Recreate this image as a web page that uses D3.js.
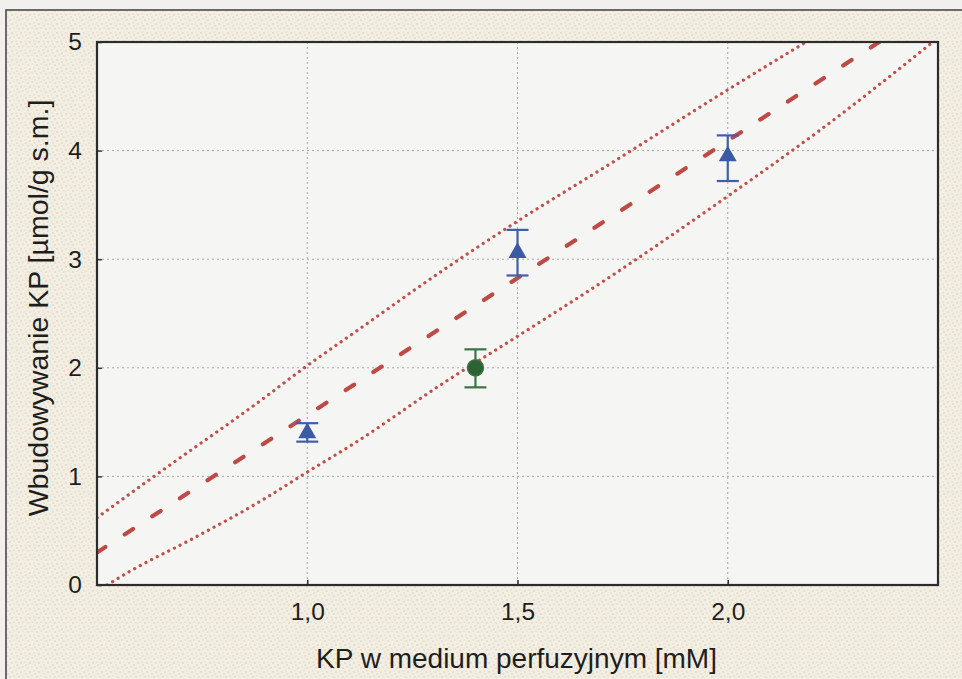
<!DOCTYPE html>
<meta charset="utf-8">
<title>Wbudowywanie KP</title>
<style>
    body { margin: 0; background: #f1f0ec; }
    svg { display: block; }
    text { font-family: "Liberation Sans", Arial, sans-serif; fill: #1e1e1e; }
</style>
<script src="https://d3js.org/d3.v7.js"></script>
<body>
<script>
    // values
    const xTicks = [1.0, 1.5, 2.0];
    const yTicks = [0, 1, 2, 3, 4, 5];

    // triangles: mean with lower / upper error
    const triX = [1.0, 1.5, 2.0];
    const triY = [1.40, 3.06, 3.95];
    const triLo = [1.32, 2.85, 3.72];
    const triHi = [1.49, 3.27, 4.14];

    // green circle
    const dotX = [1.4];
    const dotY = [2.0];
    const dotLo = [1.82];
    const dotHi = [2.17];

    // regression line and confidence band
    const fitLine = [[0.5, 0.30], [2.36, 5.0]];
    const upperBand = [[0.5, 0.62], [0.65, 1.04], [0.886, 1.69], [1.0, 2.02], [1.114, 2.33],
        [1.316, 2.88], [1.5, 3.35], [1.721, 3.88], [2.0, 4.56], [2.186, 5.0]];
    const lowerBand = [[0.524, 0.0], [0.571, 0.11], [0.729, 0.43], [0.888, 0.77], [1.0, 1.04],
        [1.114, 1.31], [1.324, 1.86], [1.5, 2.29], [1.721, 2.84], [2.0, 3.58], [2.22, 4.19], [2.488, 5.0]];

    const W = 962, H = 679;
    const margin = { top: 42, right: 24, bottom: 94, left: 97 };
    const width = W - margin.left - margin.right,
        height = H - margin.top - margin.bottom;

    const svg = d3.select("body").append("svg")
        .attr("width", W)
        .attr("height", H);

    // stippled paper texture
    const defs = svg.append("defs");
    const pat = defs.append("pattern")
        .attr("id", "paper")
        .attr("width", 9).attr("height", 9)
        .attr("patternUnits", "userSpaceOnUse");
    pat.append("rect").attr("width", 9).attr("height", 9).attr("fill", "#f3eee2");
    [[1, 2, "#d9c3b6"], [5, 1, "#dcd2c4"], [3, 6, "#d6c0b4"], [7, 5, "#e0d6c9"], [8, 8, "#d8cabd"]]
        .forEach(p => pat.append("circle").attr("cx", p[0]).attr("cy", p[1]).attr("r", 0.7).attr("fill", p[2]));

    svg.append("rect")
        .attr("x", 6).attr("y", 10)
        .attr("width", W).attr("height", H)
        .attr("fill", "url(#paper)")
        .attr("stroke", "#4a4a4a")
        .attr("stroke-width", 1.6);

    const g = svg.append("g")
        .attr("transform", `translate(${margin.left},${margin.top})`);

    g.append("rect")
        .attr("width", width).attr("height", height)
        .attr("fill", "#f5f5f3");

    defs.append("clipPath").attr("id", "plotclip")
        .append("rect").attr("width", width).attr("height", height);

    const x = d3.scaleLinear().domain([0.5, 2.5]).range([0, width]);
    const y = d3.scaleLinear().domain([0, 5]).range([height, 0]);

    // grid
    g.append("g").selectAll("line").data(xTicks).join("line")
        .attr("x1", d => x(d)).attr("x2", d => x(d))
        .attr("y1", 0).attr("y2", height)
        .attr("stroke", "#a8a8a8").attr("stroke-width", 1)
        .attr("stroke-dasharray", "2,3");
    g.append("g").selectAll("line").data(yTicks.slice(1, -1)).join("line")
        .attr("x1", 0).attr("x2", width)
        .attr("y1", d => y(d)).attr("y2", d => y(d))
        .attr("stroke", "#a8a8a8").attr("stroke-width", 1)
        .attr("stroke-dasharray", "2,3");

    // axes
    const xAxis = g.append("g")
        .attr("transform", `translate(0,${height})`)
        .call(d3.axisBottom(x).tickValues(xTicks).tickSizeInner(-5).tickSizeOuter(0)
            .tickPadding(18).tickFormat(d => d3.format(".1f")(d).replace(".", ",")));
    const yAxis = g.append("g")
        .call(d3.axisLeft(y).tickValues(yTicks).tickSizeInner(-5).tickSizeOuter(0)
            .tickPadding(15).tickFormat(d3.format("d")));
    [xAxis, yAxis].forEach(a => {
        a.select(".domain").remove();
        a.selectAll(".tick line").attr("stroke", "#333").attr("stroke-width", 1.5);
        a.selectAll(".tick text").style("font-size", "24.5px").attr("fill", "#1e1e1e");
    });

    // lines
    const line = d3.line().x(d => x(d[0])).y(d => y(d[1])).curve(d3.curveMonotoneX);
    const lines = g.append("g").attr("clip-path", "url(#plotclip)");
    lines.append("path").datum(upperBand).attr("d", line)
        .attr("fill", "none").attr("stroke", "#c1504b").attr("stroke-width", 3.2)
        .attr("stroke-linecap", "round").attr("stroke-dasharray", "0.1,6.3");
    lines.append("path").datum(lowerBand).attr("d", line)
        .attr("fill", "none").attr("stroke", "#c1504b").attr("stroke-width", 3.2)
        .attr("stroke-linecap", "round").attr("stroke-dasharray", "0.1,6.3");
    lines.append("path").datum(fitLine).attr("d", d3.line().x(d => x(d[0])).y(d => y(d[1])))
        .attr("fill", "none").attr("stroke", "#be4a45").attr("stroke-width", 4.2)
        .attr("stroke-linecap", "round").attr("stroke-dasharray", "10,23");

    // error bars
    function errorBars(xs, lo, hi, color) {
        const eb = g.append("g").attr("stroke", color).attr("stroke-width", 2.2);
        eb.selectAll(".v").data(xs).join("line")
            .attr("x1", d => x(d)).attr("x2", d => x(d))
            .attr("y1", (d, i) => y(lo[i])).attr("y2", (d, i) => y(hi[i]));
        eb.selectAll(".t").data(xs).join("line")
            .attr("x1", d => x(d) - 11).attr("x2", d => x(d) + 11)
            .attr("y1", (d, i) => y(hi[i])).attr("y2", (d, i) => y(hi[i]));
        eb.selectAll(".b").data(xs).join("line")
            .attr("x1", d => x(d) - 11).attr("x2", d => x(d) + 11)
            .attr("y1", (d, i) => y(lo[i])).attr("y2", (d, i) => y(lo[i]));
    }
    errorBars(triX, triLo, triHi, "#3f5fa8");
    errorBars(dotX, dotLo, dotHi, "#3a7444");

    // markers
    g.append("g").selectAll("path").data(triX).join("path")
        .attr("d", d3.symbol().type(d3.symbolTriangle).size(140))
        .attr("transform", (d, i) => `translate(${x(d)},${y(triY[i])})`)
        .attr("fill", "#3a5aa6");
    g.append("g").selectAll("circle").data(dotX).join("circle")
        .attr("cx", d => x(d)).attr("cy", (d, i) => y(dotY[i]))
        .attr("r", 8)
        .attr("fill", "#2d6235").attr("stroke", "#3a7444").attr("stroke-width", 1.5);

    // frame
    g.append("rect")
        .attr("width", width).attr("height", height)
        .attr("fill", "none").attr("stroke", "#2c2c2c").attr("stroke-width", 2.2);

    // axis titles
    svg.append("text")
        .attr("x", margin.left + width / 2 - 1).attr("y", 668)
        .attr("text-anchor", "middle")
        .style("font-size", "28px")
        .text("KP w medium perfuzyjnym [mM]");
    svg.append("text")
        .attr("transform", `translate(48,308) rotate(-90)`)
        .attr("text-anchor", "middle")
        .style("font-size", "28.5px")
        .text("Wbudowywanie KP [µmol/g s.m.]");
</script>
</body>
